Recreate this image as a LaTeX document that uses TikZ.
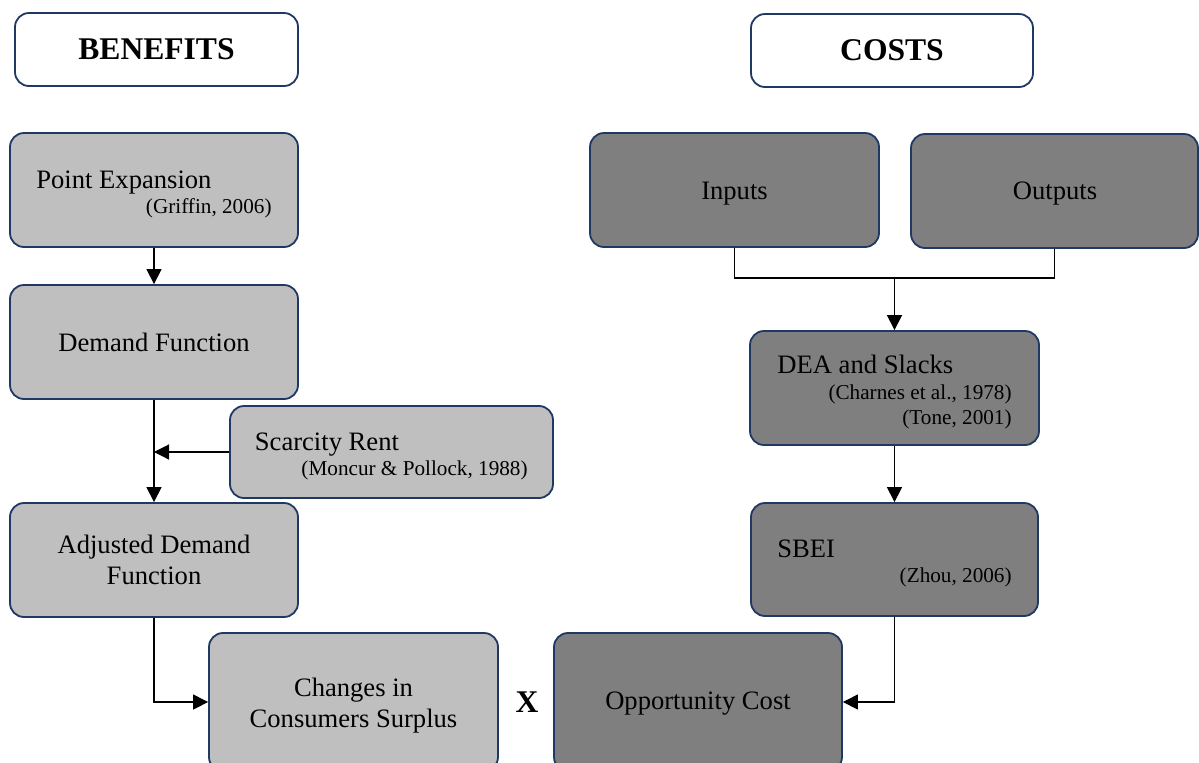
\documentclass[tikz,border=0pt]{standalone}
\usepackage{fontspec}
\setmainfont{Liberation Serif}
\usetikzlibrary{arrows.meta}
\definecolor{lightfill}{HTML}{BFBFBF}
\definecolor{darkfill}{HTML}{7F7F7F}
\definecolor{bord}{HTML}{1F3864}
\begin{document}
\begin{tikzpicture}[x=0.5pt,y=-0.5pt,
 box/.style={draw=bord,line width=0.9pt,rounded corners=7pt,inner sep=0pt,align=center,font=\fontsize{13.3}{15.5}\selectfont},
 hbox/.style={box,fill=white,font=\fontsize{15.8}{18}\selectfont\bfseries},
 lbox/.style={box,fill=lightfill},
 dbox/.style={box,fill=darkfill},
 ctrlbl/.style={inner sep=0pt,align=center,font=\fontsize{13.3}{15.5}\selectfont},
 mainlbl/.style={inner sep=0pt,font=\fontsize{13.3}{15.5}\selectfont,anchor=base west},
 citelbl/.style={inner sep=0pt,font=\fontsize{10.6}{12.5}\selectfont,anchor=base east},
 arr/.style={draw=black,line width=0.6pt,-{Triangle[length=7.5pt,width=7.5pt]}},
 conn/.style={draw=black,line width=0.6pt}]
\useasboundingbox (0,0) rectangle (1199,762);
\clip (0,0) rectangle (1199,762);
% headers
\node[hbox,minimum width=141.5pt,minimum height=36.5pt] (ben) at (156.5,49.5) {BENEFITS};
\node[hbox,minimum width=141pt,minimum height=36.5pt] (cost) at (892,50.5) {COSTS};
% benefits column
\node[lbox,minimum width=144pt,minimum height=57pt] (pe) at (154,190) {};
\node[mainlbl] (pet) at (36,188) {Point Expansion};
\node[citelbl] (pec) at (272,213) {(Griffin, 2006)};
\node[lbox,minimum width=144pt,minimum height=57pt] (df) at (154,342) {Demand Function};
\node[lbox,minimum width=161.5pt,minimum height=46pt] (sr) at (391.5,452) {};
\node[mainlbl] (srt) at (254.5,450) {Scarcity Rent};
\node[citelbl] (src) at (528,475) {(Moncur \& Pollock, 1988)};
\node[lbox,minimum width=144pt,minimum height=57pt] (adf) at (154,560) {Adjusted Demand\\Function};
\node[lbox,minimum width=144.5pt,minimum height=69pt] (ch) at (353.5,702) {};
\node[ctrlbl] (cht) at (353.5,706) {Changes in\\Consumers Surplus};
\node[inner sep=0pt,font=\fontsize{15.8}{18}\selectfont\bfseries] (times) at (527,702) {X};
% costs column
\node[dbox,minimum width=144.5pt,minimum height=57pt] (inp) at (734.5,190) {};
\node[ctrlbl] (inpt) at (734.5,194) {Inputs};
\node[dbox,minimum width=143.5pt,minimum height=57pt] (out) at (1054.5,191) {};
\node[ctrlbl] (outt) at (1055,194) {Outputs};
\node[dbox,minimum width=144.5pt,minimum height=57pt] (dea) at (894.5,388) {};
\node[mainlbl] (deat) at (777,373) {DEA and Slacks};
\node[citelbl] (deac1) at (1012,399) {(Charnes et al., 1978)};
\node[citelbl] (deac2) at (1012,424) {(Tone, 2001)};
\node[dbox,minimum width=143.5pt,minimum height=56.5pt] (sbei) at (894.5,559.5) {};
\node[mainlbl] (sbeit) at (777,557) {SBEI};
\node[citelbl] (sbeic) at (1012,582) {(Zhou, 2006)};
\node[dbox,minimum width=144pt,minimum height=69pt] (opp) at (698,702) {};
\node[ctrlbl] (oppt) at (698,704) {Opportunity Cost};
% connectors
\draw[arr] (pe.south) -- (df.north);
\draw[arr] (df.south) -- (adf.north);
\draw[arr] (sr.west) -- (sr.west -| df.south);
\draw[arr] (adf.south) |- (ch.west);
\coordinate (j) at (894.5,278);
\draw[conn] (inp.south) |- (j) -| (out.south);
\draw[arr] (j) -- (dea.north);
\draw[arr] (dea.south) -- (sbei.north);
\draw[arr] (sbei.south) |- (opp.east);
\end{tikzpicture}
\end{document}
